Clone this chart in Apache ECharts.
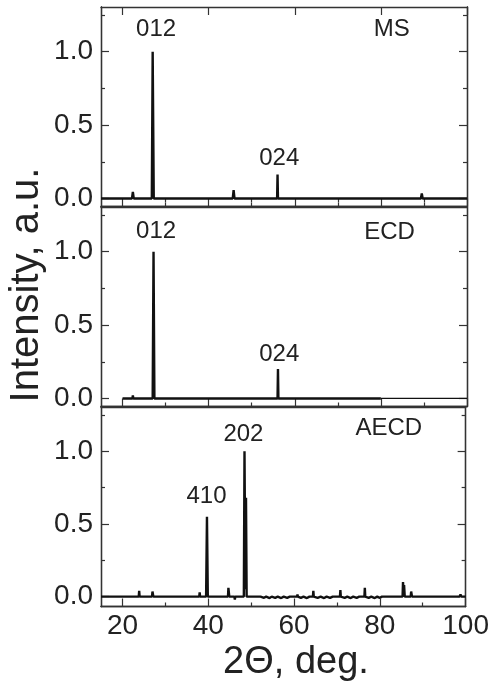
<!DOCTYPE html>
<html>
<head>
<meta charset="utf-8">
<script src="https://cdn.jsdelivr.net/npm/echarts@6/dist/echarts.min.js"></script>
<style>
  html, body { margin: 0; padding: 0; background: #fff; }
  #main { width: 492px; height: 687px; }
</style>
</head>
<body>
<div id="main"></div>
<script>
// x range and ticks (2 theta, deg.)
var xMajor = [20, 40, 60, 80, 100];
var xMinor = [30, 50, 70, 90];
var yMajor = [0, 0.5, 1.0];
var yMinor = [0.25, 0.75, 1.25];

var panelNames = ['MS', 'ECD', 'AECD'];

// traces: [2theta, intensity]
var msTrace = [
  [15, 0], [22.2, 0], [22.4, 0.045], [22.6, 0], [26.8, 0], [27.0, 1.0], [27.25, 0],
  [45.6, 0], [45.8, 0.057], [46.0, 0], [48.4, 0], [48.5, 0.012], [48.6, 0],
  [55.9, 0], [56.0, 0.163], [56.1, 0], [71.3, 0], [71.4, 0.01], [71.5, 0],
  [73.7, 0], [73.8, 0.01], [73.9, 0], [89.3, 0], [89.5, 0.034], [89.7, 0], [100, 0]
];
var ecdTrace = [
  [20, 0], [22.3, 0], [22.4, 0.02], [22.5, 0], [27.0, 0], [27.2, 1.0], [27.4, 0],
  [45.7, 0], [45.8, 0.01], [45.9, 0], [56.0, 0], [56.1, 0.2], [56.2, 0], [80, 0]
];
var ecdTail = [[80, 0], [100, 0]];
var aecdTrace = [
  [15, 0], [23.8, 0], [23.9, 0.04], [24.0, 0], [26.9, 0], [27.0, 0.035], [27.2, 0],
  [37.9, 0], [38.0, 0.03], [38.1, 0], [39.5, 0], [39.7, 0.55], [39.9, 0],
  [44.6, 0], [44.7, 0.06], [44.9, 0], [46.1, 0], [46.2, -0.02], [46.3, 0],
  [48.3, 0], [48.45, 1.0], [48.65, 0.05], [48.8, 0.68], [48.95, 0],
  [51.6, 0], [51.8, -0.01], [52.2, 0], [53.0, -0.008], [53.5, 0], [54.3, -0.01], [54.8, 0],
  [55.6, -0.008], [56.2, 0], [57.0, -0.01], [57.6, 0], [58.4, -0.008], [59.0, 0],
  [60.7, 0], [60.8, 0.015], [60.9, 0], [61.6, -0.008], [62.2, 0], [63.0, -0.01], [63.6, 0],
  [64.4, 0], [64.5, 0.04], [64.6, 0], [65.5, -0.008], [66.2, 0], [67.0, -0.01], [67.6, 0],
  [68.4, -0.008], [69.0, 0], [70.7, 0], [70.8, 0.045], [70.9, 0], [71.8, -0.008], [72.4, 0],
  [73.2, -0.01], [73.8, 0], [74.6, -0.008], [75.2, 0], [76.4, 0], [76.5, 0.06], [76.6, 0],
  [77.4, -0.008], [78.0, 0], [78.8, -0.01], [79.4, 0], [80.0, -0.008], [80.5, 0],
  [85.3, 0], [85.4, 0.1], [85.55, 0.02], [85.65, 0.08], [85.8, 0],
  [87.2, 0], [87.3, 0.035], [87.5, 0], [91.7, 0], [91.8, 0.012], [91.9, 0],
  [98.6, 0], [98.8, 0.015], [99.0, 0], [100, 0]
];

// peak labels [x, y, text]
var msLabels = [[27.8, 1.15, '012'], [56.4, 0.27, '024'], [82.5, 1.155, 'MS']];
var ecdLabels = [[27.8, 1.14, '012'], [56.4, 0.30, '024'], [82.0, 1.13, 'ECD']];
var aecdLabels = [[39.6, 0.69, '410'], [48.2, 1.115, '202'], [82.1, 1.155, 'AECD']];

var traces = [msTrace, ecdTrace, aecdTrace];
var labels = [msLabels, ecdLabels, aecdLabels];
var yMins = [-0.055, -0.055, -0.068];

var txt = '#222';
var frame = '#333';
var font = 'Liberation Sans, Arial, sans-serif';

var grids = [], xAxes = [], yAxes = [], series = [];
var tops = [7, 207, 407];

for (var g = 0; g < 3; g++) {
  grids.push({ left: 101, right: 25, top: tops[g], height: 199.5 });

  var xBase = {
    gridIndex: g, type: 'value', min: 15, max: 100,
    splitLine: { show: false },
    axisLine: { show: true, onZero: false, lineStyle: { color: frame, width: 1.3 } }
  };
  // bottom major (series bind to this one)
  xAxes.push(Object.assign({}, xBase, {
    position: 'bottom',
    axisTick: { show: true, inside: true, length: 8, customValues: xMajor, lineStyle: { color: frame, width: 1.2 } },
    axisLabel: { show: g === 2, customValues: xMajor, margin: 6, color: txt, fontSize: 28, fontFamily: font }
  }));
  // bottom minor
  xAxes.push(Object.assign({}, xBase, {
    position: 'bottom',
    axisTick: { show: true, inside: true, length: 4, customValues: xMinor, lineStyle: { color: frame, width: 1.2 } },
    axisLabel: { show: false }
  }));
  // top frame, ticks only on the first panel
  xAxes.push(Object.assign({}, xBase, {
    position: 'top',
    axisTick: { show: g === 0, inside: true, length: 8, customValues: xMajor, lineStyle: { color: frame, width: 1.2 } },
    axisLabel: { show: false }
  }));
  xAxes.push(Object.assign({}, xBase, {
    position: 'top',
    axisLine: { show: false },
    axisTick: { show: g === 0, inside: true, length: 4, customValues: xMinor, lineStyle: { color: frame, width: 1.2 } },
    axisLabel: { show: false }
  }));

  var yBase = {
    gridIndex: g, type: 'value', min: yMins[g], max: 1.305,
    splitLine: { show: false },
    axisLine: { show: true, onZero: false, lineStyle: { color: frame, width: 1.3 } }
  };
  yAxes.push(Object.assign({}, yBase, {
    position: 'left',
    axisTick: { show: true, inside: true, length: 8, customValues: yMajor, lineStyle: { color: frame, width: 1.2 } },
    axisLabel: {
      show: true, customValues: yMajor, margin: 8, color: txt, fontSize: 28, fontFamily: font,
      formatter: function (v) { return v.toFixed(1); }
    }
  }));
  yAxes.push(Object.assign({}, yBase, {
    position: 'left',
    axisTick: { show: true, inside: true, length: 4, customValues: yMinor, lineStyle: { color: frame, width: 1.2 } },
    axisLabel: { show: false }
  }));
  yAxes.push(Object.assign({}, yBase, {
    position: 'right',
    axisTick: { show: true, inside: true, length: 8, customValues: yMajor, lineStyle: { color: frame, width: 1.2 } },
    axisLabel: { show: false }
  }));
  yAxes.push(Object.assign({}, yBase, {
    position: 'right',
    axisTick: { show: true, inside: true, length: 4, customValues: yMinor, lineStyle: { color: frame, width: 1.2 } },
    axisLabel: { show: false }
  }));

  series.push({
    name: panelNames[g], type: 'line', xAxisIndex: g * 4, yAxisIndex: g * 4,
    data: traces[g], showSymbol: false, animation: false,
    lineStyle: { color: '#111', width: 2.4 }
  });
  series.push({
    type: 'scatter', xAxisIndex: g * 4, yAxisIndex: g * 4, symbolSize: 0, animation: false,
    itemStyle: { opacity: 1 },
    data: labels[g].map(function (d) { return { value: [d[0], d[1]], name: d[2] }; }),
    label: {
      show: true, position: 'inside', formatter: '{b}',
      color: txt, fontSize: 24, fontFamily: font
    }
  });
}

series.push({
  type: 'line', xAxisIndex: 4, yAxisIndex: 4, data: ecdTail,
  showSymbol: false, animation: false, lineStyle: { color: '#111', width: 1.3 }
});

var option = {
  backgroundColor: '#fff',
  grid: grids,
  xAxis: xAxes,
  yAxis: yAxes,
  series: series,
  graphic: [
    {
      type: 'text', x: 27, y: 285, rotation: Math.PI / 2,
      style: { text: 'Intensity, a.u.', fill: txt, fontSize: 40, fontFamily: font, align: 'center', verticalAlign: 'middle' }
    },
    {
      type: 'text', x: 296, y: 663,
      style: { text: '2\u0398, deg.', fill: txt, fontSize: 38, fontFamily: font, align: 'center', verticalAlign: 'middle' }
    }
  ]
};

var chart = echarts.init(document.getElementById('main'), null, { renderer: 'canvas' });
chart.setOption(option);
</script>
</body>
</html>
